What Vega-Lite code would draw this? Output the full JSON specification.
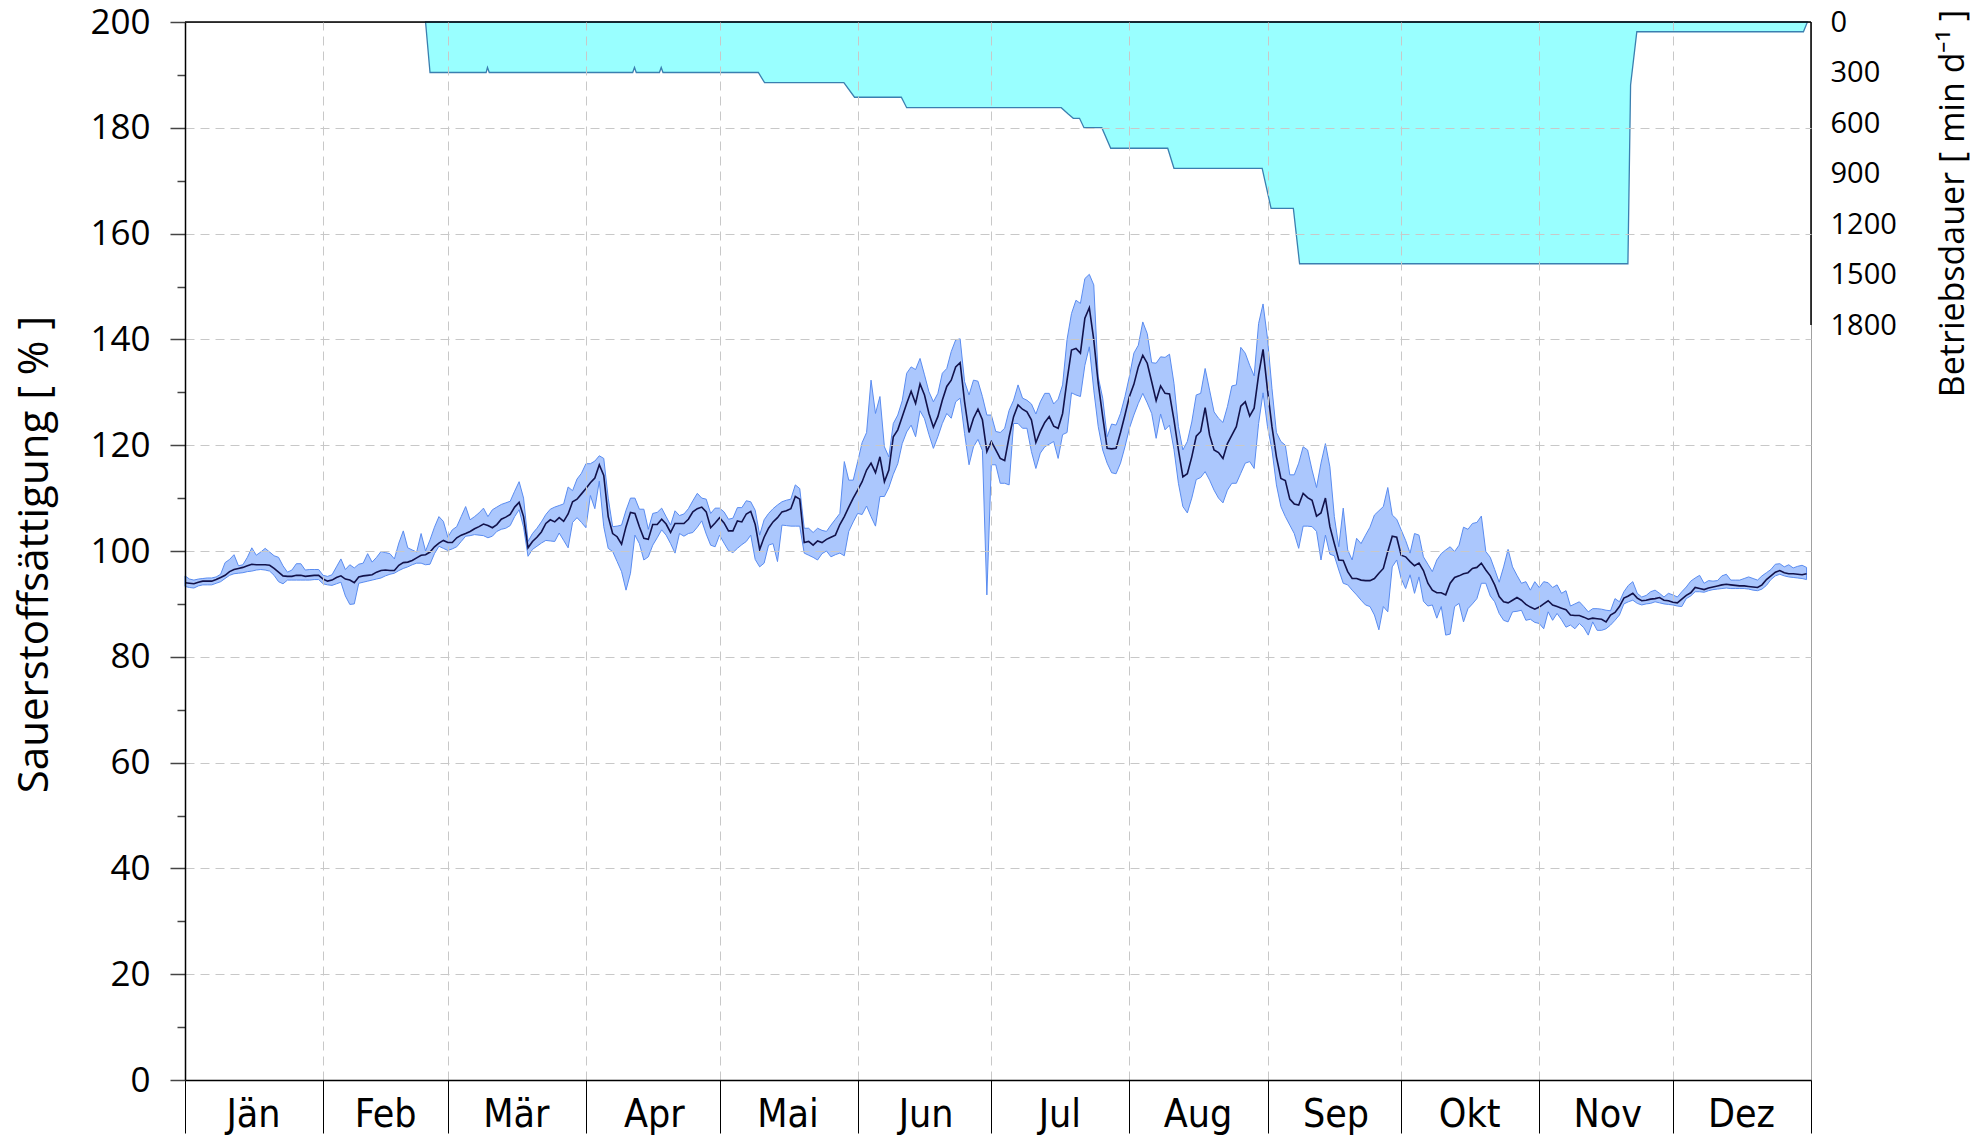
{
  "$schema": "https://vega.github.io/schema/vega-lite/v6.json",
  "width": 1626,
  "height": 1058,
  "autosize": {"type": "none"},
  "padding": {"left": 185, "top": 22, "right": 177, "bottom": 58},
  "background": "white",
  "config": {
    "font": "Open Sans",
    "view": {"stroke": "#a0a0a0", "strokeWidth": 1}
  },
  "datasets": {
    "bd": [
      {"d": 54.0, "v": 0}, {"d": 55.0, "v": 300}, {"d": 67.6, "v": 300}, {"d": 67.9, "v": 270}, {"d": 68.3, "v": 300},
      {"d": 100.5, "v": 300}, {"d": 100.9, "v": 270}, {"d": 101.3, "v": 300}, {"d": 106.5, "v": 300}, {"d": 106.9, "v": 270}, {"d": 107.3, "v": 300},
      {"d": 128.7, "v": 300}, {"d": 130.1, "v": 360}, {"d": 147.9, "v": 360}, {"d": 150.3, "v": 447}, {"d": 160.8, "v": 447}, {"d": 162.0, "v": 509},
      {"d": 196.7, "v": 509}, {"d": 198.2, "v": 545}, {"d": 199.4, "v": 572}, {"d": 200.8, "v": 572}, {"d": 201.8, "v": 628}, {"d": 205.8, "v": 628},
      {"d": 207.8, "v": 750}, {"d": 220.6, "v": 750}, {"d": 222.0, "v": 869}, {"d": 241.8, "v": 869}, {"d": 243.8, "v": 1107}, {"d": 248.8, "v": 1107},
      {"d": 250.2, "v": 1436}, {"d": 323.9, "v": 1436}, {"d": 324.5, "v": 374}, {"d": 325.9, "v": 58}, {"d": 363.3, "v": 58}, {"d": 364.2, "v": 0}
    ],
    "ox": [
      {"d":0,"m":94.0,"lo":93.3,"hi":95.3},{"d":1,"m":93.9,"lo":93.1,"hi":94.7},{"d":2,"m":93.8,"lo":93.0,"hi":94.5},{"d":3,"m":94.1,"lo":93.4,"hi":94.7},
      {"d":4,"m":94.3,"lo":93.6,"hi":94.8},{"d":5,"m":94.3,"lo":93.6,"hi":94.9},{"d":6,"m":94.3,"lo":93.6,"hi":94.9},{"d":7,"m":94.6,"lo":93.9,"hi":95.1},
      {"d":8,"m":95.0,"lo":94.2,"hi":95.6},{"d":9,"m":95.4,"lo":94.8,"hi":97.8},{"d":10,"m":96.1,"lo":95.4,"hi":98.4},{"d":11,"m":96.5,"lo":95.7,"hi":99.3},
      {"d":12,"m":96.7,"lo":95.8,"hi":97.2},{"d":13,"m":96.9,"lo":95.9,"hi":97.4},{"d":14,"m":97.2,"lo":96.1,"hi":98.8},{"d":15,"m":97.5,"lo":96.2,"hi":100.6},
      {"d":16,"m":97.4,"lo":96.4,"hi":99.2},{"d":17,"m":97.4,"lo":96.5,"hi":99.8},{"d":18,"m":97.4,"lo":96.4,"hi":100.5},{"d":19,"m":97.3,"lo":96.2,"hi":99.8},
      {"d":20,"m":96.7,"lo":95.4,"hi":99.1},{"d":21,"m":96.0,"lo":94.2,"hi":98.8},{"d":22,"m":95.3,"lo":93.8,"hi":97.2},{"d":23,"m":95.2,"lo":94.5,"hi":96.0},
      {"d":24,"m":95.2,"lo":94.5,"hi":96.4},{"d":25,"m":95.4,"lo":94.5,"hi":97.6},{"d":26,"m":95.4,"lo":94.5,"hi":97.6},{"d":27,"m":95.2,"lo":94.5,"hi":96.4},
      {"d":28,"m":95.3,"lo":94.5,"hi":96.5},{"d":29,"m":95.4,"lo":94.6,"hi":96.5},{"d":30,"m":95.4,"lo":94.6,"hi":96.5},{"d":31,"m":94.7,"lo":93.8,"hi":95.4},
      {"d":32,"m":94.3,"lo":93.6,"hi":95.2},{"d":33,"m":94.5,"lo":93.5,"hi":95.5},{"d":34,"m":95.0,"lo":93.8,"hi":97.0},{"d":35,"m":95.3,"lo":94.1,"hi":98.5},
      {"d":36,"m":94.7,"lo":91.5,"hi":96.5},{"d":37,"m":94.5,"lo":89.9,"hi":97.4},{"d":38,"m":94.0,"lo":90.0,"hi":96.8},{"d":39,"m":95.1,"lo":93.9,"hi":97.5},
      {"d":40,"m":95.3,"lo":94.1,"hi":97.7},{"d":41,"m":95.4,"lo":94.3,"hi":99.5},{"d":42,"m":95.5,"lo":94.5,"hi":97.9},{"d":43,"m":96.0,"lo":94.7,"hi":98.8},
      {"d":44,"m":96.3,"lo":94.9,"hi":99.9},{"d":45,"m":96.4,"lo":95.3,"hi":99.7},{"d":46,"m":96.3,"lo":95.6,"hi":99.5},{"d":47,"m":96.3,"lo":95.8,"hi":98.5},
      {"d":48,"m":97.3,"lo":96.3,"hi":101.5},{"d":49,"m":97.8,"lo":96.7,"hi":103.8},{"d":50,"m":97.9,"lo":97.0,"hi":100.6},{"d":51,"m":98.2,"lo":97.4,"hi":100.2},
      {"d":52,"m":98.7,"lo":97.7,"hi":99.8},{"d":53,"m":99.2,"lo":97.7,"hi":103.3},{"d":54,"m":99.3,"lo":97.4,"hi":100.0},{"d":55,"m":99.8,"lo":97.5,"hi":102.1},
      {"d":56,"m":100.8,"lo":99.5,"hi":104.5},{"d":57,"m":101.5,"lo":100.9,"hi":106.5},{"d":58,"m":102.0,"lo":100.5,"hi":105.6},{"d":59,"m":101.6,"lo":100.1,"hi":102.6},
      {"d":60,"m":101.6,"lo":100.4,"hi":104.0},{"d":61,"m":102.5,"lo":100.8,"hi":104.6},{"d":62,"m":103.0,"lo":101.8,"hi":106.5},{"d":63,"m":103.3,"lo":102.8,"hi":108.4},
      {"d":64,"m":103.7,"lo":102.9,"hi":105.9},{"d":65,"m":104.2,"lo":103.1,"hi":106.5},{"d":66,"m":104.6,"lo":103.0,"hi":107.2},{"d":67,"m":105.1,"lo":102.9,"hi":108.1},
      {"d":68,"m":104.8,"lo":102.5,"hi":106.5},{"d":69,"m":104.4,"lo":102.8,"hi":107.8},{"d":70,"m":105.0,"lo":103.7,"hi":108.3},{"d":71,"m":106.0,"lo":104.1,"hi":108.8},
      {"d":72,"m":106.4,"lo":104.3,"hi":109.1},{"d":73,"m":106.9,"lo":104.8,"hi":109.4},{"d":74,"m":108.3,"lo":106.5,"hi":111.3},{"d":75,"m":109.2,"lo":107.8,"hi":113.1},
      {"d":76,"m":106.5,"lo":104.5,"hi":110.0},{"d":77,"m":100.6,"lo":99.0,"hi":101.8},{"d":78,"m":101.8,"lo":100.3,"hi":103.3},{"d":79,"m":102.6,"lo":100.9,"hi":104.3},
      {"d":80,"m":103.6,"lo":101.5,"hi":105.5},{"d":81,"m":105.2,"lo":102.0,"hi":106.9},{"d":82,"m":105.9,"lo":101.9,"hi":107.9},{"d":83,"m":105.5,"lo":101.8,"hi":108.3},
      {"d":84,"m":106.3,"lo":103.4,"hi":108.6},{"d":85,"m":105.6,"lo":102.0,"hi":108.9},{"d":86,"m":107.0,"lo":100.6,"hi":112.1},{"d":87,"m":109.3,"lo":105.4,"hi":111.4},
      {"d":88,"m":109.8,"lo":106.3,"hi":113.6},{"d":89,"m":110.8,"lo":105.4,"hi":114.7},{"d":90,"m":111.8,"lo":104.4,"hi":116.5},{"d":91,"m":112.9,"lo":110.5,"hi":116.5},
      {"d":92,"m":113.8,"lo":108.0,"hi":117.0},{"d":93,"m":116.3,"lo":113.2,"hi":118.0},{"d":94,"m":114.3,"lo":104.6,"hi":117.5},{"d":95,"m":106.5,"lo":100.5,"hi":110.0},
      {"d":96,"m":103.3,"lo":99.9,"hi":104.6},{"d":97,"m":102.7,"lo":98.0,"hi":104.7},{"d":98,"m":101.3,"lo":96.1,"hi":104.9},{"d":99,"m":104.6,"lo":92.6,"hi":107.7},
      {"d":100,"m":107.3,"lo":95.8,"hi":110.0},{"d":101,"m":107.1,"lo":103.0,"hi":110.0},{"d":102,"m":104.6,"lo":101.4,"hi":107.9},{"d":103,"m":102.4,"lo":98.3,"hi":107.9},
      {"d":104,"m":102.2,"lo":98.9,"hi":104.1},{"d":105,"m":105.0,"lo":101.1,"hi":107.1},{"d":106,"m":105.0,"lo":102.5,"hi":107.3},{"d":107,"m":106.0,"lo":104.0,"hi":108.1},
      {"d":108,"m":105.1,"lo":103.0,"hi":106.5},{"d":109,"m":103.5,"lo":101.4,"hi":104.9},{"d":110,"m":105.2,"lo":99.6,"hi":107.6},{"d":111,"m":105.2,"lo":103.3,"hi":106.7},
      {"d":112,"m":105.2,"lo":102.8,"hi":107.0},{"d":113,"m":106.0,"lo":103.3,"hi":108.0},{"d":114,"m":107.4,"lo":103.5,"hi":109.5},{"d":115,"m":108.0,"lo":104.5,"hi":110.9},
      {"d":116,"m":108.3,"lo":105.7,"hi":110.0},{"d":117,"m":107.4,"lo":103.2,"hi":109.8},{"d":118,"m":104.4,"lo":101.1,"hi":107.1},{"d":119,"m":105.3,"lo":100.8,"hi":108.1},
      {"d":120,"m":106.3,"lo":103.0,"hi":108.1},{"d":121,"m":105.3,"lo":101.5,"hi":107.4},{"d":122,"m":103.8,"lo":100.1,"hi":106.0},{"d":123,"m":103.8,"lo":99.7,"hi":106.2},
      {"d":124,"m":105.7,"lo":100.5,"hi":108.2},{"d":125,"m":105.5,"lo":101.2,"hi":108.2},{"d":126,"m":107.0,"lo":101.8,"hi":109.5},{"d":127,"m":107.5,"lo":103.0,"hi":109.3},
      {"d":128,"m":105.0,"lo":98.4,"hi":107.7},{"d":129,"m":100.3,"lo":97.0,"hi":103.0},{"d":130,"m":102.6,"lo":97.7,"hi":105.9},{"d":131,"m":104.3,"lo":101.1,"hi":107.1},
      {"d":132,"m":105.5,"lo":101.4,"hi":108.0},{"d":133,"m":106.3,"lo":98.0,"hi":108.7},{"d":134,"m":107.4,"lo":104.9,"hi":109.3},{"d":135,"m":107.6,"lo":104.8,"hi":109.6},
      {"d":136,"m":108.0,"lo":104.7,"hi":109.8},{"d":137,"m":110.3,"lo":104.7,"hi":112.5},{"d":138,"m":109.8,"lo":104.7,"hi":111.8},{"d":139,"m":101.6,"lo":99.6,"hi":104.3},
      {"d":140,"m":101.8,"lo":99.2,"hi":104.3},{"d":141,"m":101.1,"lo":98.8,"hi":103.5},{"d":142,"m":101.9,"lo":98.3,"hi":104.3},{"d":143,"m":101.6,"lo":99.5,"hi":103.9},
      {"d":144,"m":102.2,"lo":100.0,"hi":103.7},{"d":145,"m":102.6,"lo":98.9,"hi":104.9},{"d":146,"m":103.0,"lo":99.3,"hi":106.0},{"d":147,"m":105.0,"lo":99.6,"hi":107.1},
      {"d":148,"m":106.5,"lo":99.1,"hi":116.9},{"d":149,"m":108.3,"lo":103.7,"hi":113.4},{"d":150,"m":110.0,"lo":105.5,"hi":113.4},{"d":151,"m":111.5,"lo":107.1,"hi":116.9},
      {"d":152,"m":113.1,"lo":106.9,"hi":120.5},{"d":153,"m":115.3,"lo":108.5,"hi":122.4},{"d":154,"m":116.6,"lo":106.5,"hi":132.3},{"d":155,"m":114.8,"lo":104.7,"hi":126.0},
      {"d":156,"m":117.8,"lo":110.3,"hi":129.2},{"d":157,"m":113.1,"lo":110.3,"hi":119.7},{"d":158,"m":115.3,"lo":112.0,"hi":117.8},{"d":159,"m":121.6,"lo":114.5,"hi":124.1},
      {"d":160,"m":122.9,"lo":116.5,"hi":125.7},{"d":161,"m":125.4,"lo":120.3,"hi":128.4},{"d":162,"m":127.9,"lo":122.5,"hi":133.6},{"d":163,"m":130.2,"lo":123.8,"hi":134.8},
      {"d":164,"m":127.9,"lo":121.6,"hi":134.3},{"d":165,"m":131.6,"lo":126.5,"hi":136.4},{"d":166,"m":129.5,"lo":125.0,"hi":133.3},{"d":167,"m":126.0,"lo":122.0,"hi":130.1},
      {"d":168,"m":123.4,"lo":119.4,"hi":128.2},{"d":169,"m":125.4,"lo":121.6,"hi":129.8},{"d":170,"m":128.5,"lo":124.1,"hi":133.6},{"d":171,"m":131.1,"lo":126.0,"hi":134.5},
      {"d":172,"m":132.3,"lo":125.1,"hi":137.7},{"d":173,"m":134.8,"lo":128.2,"hi":139.9},{"d":174,"m":135.6,"lo":128.9,"hi":140.1},{"d":175,"m":128.2,"lo":122.2,"hi":132.0},
      {"d":176,"m":122.4,"lo":116.3,"hi":129.5},{"d":177,"m":125.1,"lo":119.7,"hi":132.3},{"d":178,"m":126.8,"lo":121.1,"hi":132.1},{"d":179,"m":124.8,"lo":119.0,"hi":129.2},
      {"d":180,"m":118.8,"lo":91.7,"hi":125.7},{"d":181,"m":120.7,"lo":116.3,"hi":125.7},{"d":182,"m":119.1,"lo":116.3,"hi":122.6},{"d":183,"m":117.5,"lo":112.8,"hi":122.4},
      {"d":184,"m":117.1,"lo":112.8,"hi":123.2},{"d":185,"m":121.6,"lo":112.5,"hi":126.6},{"d":186,"m":125.4,"lo":124.1,"hi":128.5},{"d":187,"m":127.6,"lo":124.1,"hi":131.4},
      {"d":188,"m":126.8,"lo":123.2,"hi":128.9},{"d":189,"m":126.3,"lo":123.2,"hi":128.5},{"d":190,"m":124.8,"lo":118.8,"hi":127.8},{"d":191,"m":120.5,"lo":115.6,"hi":125.9},
      {"d":192,"m":122.6,"lo":118.5,"hi":128.2},{"d":193,"m":124.3,"lo":119.7,"hi":129.8},{"d":194,"m":125.4,"lo":120.2,"hi":129.8},{"d":195,"m":123.6,"lo":120.7,"hi":127.8},
      {"d":196,"m":123.2,"lo":117.5,"hi":128.7},{"d":197,"m":126.0,"lo":122.0,"hi":131.4},{"d":198,"m":132.3,"lo":122.4,"hi":140.0},{"d":199,"m":138.0,"lo":129.9,"hi":144.9},
      {"d":200,"m":138.3,"lo":129.5,"hi":147.4},{"d":201,"m":137.4,"lo":129.2,"hi":146.8},{"d":202,"m":144.0,"lo":135.1,"hi":151.5},{"d":203,"m":146.0,"lo":138.6,"hi":152.3},
      {"d":204,"m":139.9,"lo":130.4,"hi":150.3},{"d":205,"m":131.7,"lo":123.5,"hi":132.9},{"d":206,"m":125.4,"lo":119.1,"hi":128.9},{"d":207,"m":119.4,"lo":116.6,"hi":121.6},
      {"d":208,"m":119.3,"lo":114.8,"hi":124.0},{"d":209,"m":119.4,"lo":114.6,"hi":123.8},{"d":210,"m":122.4,"lo":116.6,"hi":126.0},{"d":211,"m":125.7,"lo":119.7,"hi":129.2},
      {"d":212,"m":129.2,"lo":123.2,"hi":133.0},{"d":213,"m":131.5,"lo":125.7,"hi":137.4},{"d":214,"m":134.8,"lo":127.9,"hi":138.9},{"d":215,"m":137.0,"lo":129.8,"hi":143.3},
      {"d":216,"m":135.5,"lo":128.0,"hi":141.1},{"d":217,"m":132.0,"lo":126.0,"hi":135.6},{"d":218,"m":128.4,"lo":121.3,"hi":135.5},{"d":219,"m":131.2,"lo":125.9,"hi":136.7},
      {"d":220,"m":129.8,"lo":122.9,"hi":136.6},{"d":221,"m":129.7,"lo":123.8,"hi":137.2},{"d":222,"m":124.8,"lo":119.2,"hi":131.7},{"d":223,"m":119.1,"lo":112.8,"hi":123.5},
      {"d":224,"m":114.0,"lo":108.4,"hi":119.1},{"d":225,"m":114.6,"lo":107.2,"hi":120.7},{"d":226,"m":117.8,"lo":110.0,"hi":124.4},{"d":227,"m":121.7,"lo":113.5,"hi":129.5},
      {"d":228,"m":122.6,"lo":113.9,"hi":129.8},{"d":229,"m":127.1,"lo":115.0,"hi":134.5},{"d":230,"m":121.9,"lo":113.4,"hi":130.4},{"d":231,"m":119.1,"lo":111.5,"hi":126.3},
      {"d":232,"m":118.6,"lo":110.0,"hi":125.1},{"d":233,"m":117.5,"lo":109.1,"hi":124.3},{"d":234,"m":120.3,"lo":111.5,"hi":127.3},{"d":235,"m":121.9,"lo":112.8,"hi":131.2},
      {"d":236,"m":123.5,"lo":112.8,"hi":131.4},{"d":237,"m":127.4,"lo":114.7,"hi":138.5},{"d":238,"m":128.2,"lo":116.6,"hi":137.4},{"d":239,"m":125.5,"lo":116.9,"hi":135.1},
      {"d":240,"m":127.0,"lo":115.6,"hi":133.1},{"d":241,"m":133.3,"lo":124.1,"hi":143.0},{"d":242,"m":138.1,"lo":129.9,"hi":146.7},{"d":243,"m":130.4,"lo":123.5,"hi":140.2},
      {"d":244,"m":123.5,"lo":119.1,"hi":130.7},{"d":245,"m":117.8,"lo":112.5,"hi":122.4},{"d":246,"m":113.7,"lo":108.4,"hi":120.7},{"d":247,"m":113.3,"lo":106.5,"hi":120.0},
      {"d":248,"m":109.8,"lo":104.9,"hi":114.4},{"d":249,"m":108.9,"lo":103.3,"hi":114.4},{"d":250,"m":108.7,"lo":100.5,"hi":116.6},{"d":251,"m":110.9,"lo":104.7,"hi":119.7},
      {"d":252,"m":110.1,"lo":104.7,"hi":119.1},{"d":253,"m":109.6,"lo":104.6,"hi":115.3},{"d":254,"m":106.6,"lo":103.7,"hi":112.0},{"d":255,"m":107.2,"lo":98.3,"hi":116.6},
      {"d":256,"m":110.0,"lo":103.0,"hi":120.3},{"d":257,"m":104.6,"lo":99.4,"hi":115.9},{"d":258,"m":101.4,"lo":99.1,"hi":106.5},{"d":259,"m":98.3,"lo":96.4,"hi":100.8},
      {"d":260,"m":98.2,"lo":93.9,"hi":108.1},{"d":261,"m":96.1,"lo":93.6,"hi":100.2},{"d":262,"m":94.8,"lo":92.6,"hi":98.3},{"d":263,"m":94.8,"lo":91.7,"hi":102.4},
      {"d":264,"m":94.5,"lo":90.7,"hi":101.4},{"d":265,"m":94.4,"lo":89.8,"hi":103.0},{"d":266,"m":94.4,"lo":89.5,"hi":104.5},{"d":267,"m":94.8,"lo":87.9,"hi":106.8},
      {"d":268,"m":95.8,"lo":85.1,"hi":107.6},{"d":269,"m":96.7,"lo":89.5,"hi":108.4},{"d":270,"m":99.9,"lo":88.5,"hi":112.0},{"d":271,"m":102.8,"lo":97.0,"hi":106.8},
      {"d":272,"m":102.6,"lo":98.3,"hi":106.0},{"d":273,"m":99.2,"lo":94.8,"hi":104.0},{"d":274,"m":98.9,"lo":92.9,"hi":102.0},{"d":275,"m":98.0,"lo":95.5,"hi":99.6},
      {"d":276,"m":97.2,"lo":92.0,"hi":103.3},{"d":277,"m":97.7,"lo":95.1,"hi":103.0},{"d":278,"m":96.3,"lo":90.5,"hi":98.9},{"d":279,"m":93.9,"lo":89.6,"hi":97.5},
      {"d":280,"m":92.6,"lo":89.8,"hi":96.1},{"d":281,"m":92.1,"lo":87.3,"hi":98.3},{"d":282,"m":92.1,"lo":89.5,"hi":99.5},{"d":283,"m":91.7,"lo":84.1,"hi":100.2},
      {"d":284,"m":93.9,"lo":84.3,"hi":100.8},{"d":285,"m":95.0,"lo":89.5,"hi":99.9},{"d":286,"m":95.3,"lo":90.1,"hi":101.1},{"d":287,"m":95.7,"lo":86.6,"hi":104.5},
      {"d":288,"m":95.9,"lo":89.1,"hi":104.1},{"d":289,"m":96.7,"lo":90.0,"hi":105.2},{"d":290,"m":96.9,"lo":91.0,"hi":105.4},{"d":291,"m":97.7,"lo":93.9,"hi":106.6},
      {"d":292,"m":96.4,"lo":93.9,"hi":99.9},{"d":293,"m":95.3,"lo":91.5,"hi":98.8},{"d":294,"m":93.6,"lo":90.4,"hi":96.5},{"d":295,"m":91.4,"lo":88.2,"hi":94.1},
      {"d":296,"m":90.4,"lo":86.9,"hi":97.0},{"d":297,"m":90.2,"lo":86.6,"hi":100.3},{"d":298,"m":90.7,"lo":88.5,"hi":97.0},{"d":299,"m":91.2,"lo":88.6,"hi":95.4},
      {"d":300,"m":90.7,"lo":88.8,"hi":93.9},{"d":301,"m":89.9,"lo":86.9,"hi":94.2},{"d":302,"m":89.4,"lo":87.1,"hi":92.6},{"d":303,"m":89.0,"lo":86.5,"hi":94.2},
      {"d":304,"m":89.4,"lo":86.3,"hi":93.1},{"d":305,"m":90.0,"lo":85.3,"hi":94.2},{"d":306,"m":90.6,"lo":88.5,"hi":94.0},{"d":307,"m":89.8,"lo":86.9,"hi":93.1},
      {"d":308,"m":89.5,"lo":88.2,"hi":93.6},{"d":309,"m":89.2,"lo":87.0,"hi":92.0},{"d":310,"m":88.9,"lo":85.6,"hi":92.5},{"d":311,"m":87.9,"lo":86.0,"hi":89.6},
      {"d":312,"m":87.8,"lo":85.3,"hi":90.0},{"d":313,"m":87.8,"lo":86.3,"hi":90.4},{"d":314,"m":87.5,"lo":85.5,"hi":89.5},{"d":315,"m":87.1,"lo":84.1,"hi":88.5},
      {"d":316,"m":87.3,"lo":86.6,"hi":89.1},{"d":317,"m":87.2,"lo":85.0,"hi":89.1},{"d":318,"m":87.1,"lo":85.0,"hi":89.0},{"d":319,"m":86.6,"lo":85.3,"hi":88.8},
      {"d":320,"m":87.9,"lo":86.0,"hi":88.7},{"d":321,"m":88.4,"lo":86.9,"hi":91.0},{"d":322,"m":89.5,"lo":87.9,"hi":90.4},{"d":323,"m":91.1,"lo":90.0,"hi":92.3},
      {"d":324,"m":91.5,"lo":90.4,"hi":93.5},{"d":325,"m":92.0,"lo":90.7,"hi":94.2},{"d":326,"m":91.1,"lo":90.1,"hi":92.0},{"d":327,"m":90.6,"lo":89.8,"hi":91.3},
      {"d":328,"m":90.7,"lo":90.0,"hi":91.6},{"d":329,"m":90.9,"lo":90.1,"hi":92.3},{"d":330,"m":91.0,"lo":90.4,"hi":92.6},{"d":331,"m":91.2,"lo":90.2,"hi":92.0},
      {"d":332,"m":90.7,"lo":90.0,"hi":91.3},{"d":333,"m":90.6,"lo":89.9,"hi":92.0},{"d":334,"m":90.3,"lo":89.8,"hi":91.7},{"d":335,"m":90.2,"lo":89.6,"hi":91.3},
      {"d":336,"m":90.9,"lo":89.5,"hi":92.3},{"d":337,"m":91.6,"lo":91.0,"hi":93.2},{"d":338,"m":92.1,"lo":91.5,"hi":94.3},{"d":339,"m":93.1,"lo":92.3,"hi":94.9},
      {"d":340,"m":92.9,"lo":92.3,"hi":95.4},{"d":341,"m":92.7,"lo":92.2,"hi":93.9},{"d":342,"m":93.0,"lo":92.5,"hi":94.4},{"d":343,"m":93.2,"lo":92.7,"hi":94.3},
      {"d":344,"m":93.4,"lo":92.8,"hi":94.4},{"d":345,"m":93.6,"lo":92.9,"hi":95.3},{"d":346,"m":93.7,"lo":93.0,"hi":95.6},{"d":347,"m":93.6,"lo":92.9,"hi":94.5},
      {"d":348,"m":93.5,"lo":92.9,"hi":94.5},{"d":349,"m":93.4,"lo":92.9,"hi":94.5},{"d":350,"m":93.4,"lo":92.9,"hi":94.8},{"d":351,"m":93.3,"lo":92.8,"hi":95.1},
      {"d":352,"m":93.2,"lo":92.6,"hi":94.8},{"d":353,"m":93.1,"lo":92.5,"hi":94.5},{"d":354,"m":93.6,"lo":92.8,"hi":95.3},{"d":355,"m":94.6,"lo":93.5,"hi":95.9},
      {"d":356,"m":95.3,"lo":94.6,"hi":96.5},{"d":357,"m":96.0,"lo":95.3,"hi":97.5},{"d":358,"m":96.3,"lo":95.6,"hi":97.6},{"d":359,"m":95.9,"lo":95.3,"hi":97.0},
      {"d":360,"m":95.7,"lo":95.1,"hi":97.4},{"d":361,"m":95.7,"lo":95.0,"hi":96.8},{"d":362,"m":95.6,"lo":94.9,"hi":97.1},{"d":363,"m":95.5,"lo":94.8,"hi":97.3},
      {"d":364,"m":95.7,"lo":94.6,"hi":96.9}
    ]
  },
  "layer": [
    {
      "layer": [
        {
          "data": {"name": "bd"},
          "mark": {"type": "area", "color": "#99ffff", "fillOpacity": 1, "stroke": "#3a7fb0", "strokeWidth": 1.3},
          "encoding": {
            "x": {"field": "d", "type": "quantitative", "scale": {"domain": [0, 365], "nice": false, "zero": false}},
            "y": {
              "field": "v", "type": "quantitative",
              "scale": {"domain": [0, 6285], "reverse": true, "nice": false, "zero": false},
              "axis": {
                "orient": "right", "values": [0, 300, 600, 900, 1200, 1500, 1800], "format": "d",
                "domain": false, "ticks": false, "grid": false,
                "labelFont": "Open Sans", "labelFontSize": 29, "labelColor": "black",
                "labelPadding": 19, "labelAlign": "left", "labelBaseline": "middle",
                "labelOverlap": false, "labelBound": false, "labelFlush": false,
                "title": "Betriebsdauer [ min d⁻¹ ]", "titleFont": "Open Sans", "titleFontSize": 34,
                "titleFontWeight": "normal", "titleColor": "black", "titleAngle": 270,
                "titleX": 152, "titleY": 181, "titleAlign": "center", "titleBaseline": "alphabetic"
              }
            }
          }
        },
        {
          "data": {"values": [{}]},
          "mark": {"type": "rule", "color": "black", "strokeWidth": 1.5},
          "encoding": {
            "x": {"datum": 365, "type": "quantitative"},
            "y": {"datum": 0, "type": "quantitative"},
            "y2": {"datum": 1800}
          }
        }
      ]
    },
    {
      "layer": [
        {
          "data": {"name": "ox"},
          "mark": {"type": "area", "color": "#abc7fd", "fillOpacity": 1, "stroke": "#5a8cf0", "strokeWidth": 1},
          "encoding": {
            "x": {
              "field": "d", "type": "quantitative", "scale": {"domain": [0, 365], "nice": false, "zero": false},
              "axis": {
                "orient": "bottom",
                "values": [0, 31, 59, 90, 120, 151, 181, 212, 243, 273, 304, 334, 365],
                "domain": true, "domainColor": "black", "domainWidth": 1.5,
                "ticks": true, "tickColor": "black", "tickSize": 53, "tickWidth": 1,
                "grid": true, "gridColor": "#c8c8c8", "gridDash": [9, 6], "gridWidth": 1,
                "gridOpacity": {"condition": {"test": "datum.value === 0 || datum.value === 365", "value": 0}, "value": 1},
                "labelExpr": "['Jän','Feb','Mär','Apr','Mai','Jun','Jul','Aug','Sep','Okt','Nov','Dez',''][indexof([0,31,59,90,120,151,181,212,243,273,304,334,365], datum.value)]",
                "labelFont": "Liberation Sans Narrow, DejaVu Sans Condensed, Arial Narrow, sans-serif",
                "labelFontSize": 39, "labelColor": "black",
                "labelOffset": {"condition": {"test": "datum.value === 31", "value": 62}, "value": 68},
                "labelPadding": -7, "labelBaseline": "alphabetic", "labelAlign": "center",
                "labelOverlap": false, "labelFlush": false, "labelBound": false,
                "title": "", "zindex": 1
              }
            },
            "y": {
              "field": "lo", "type": "quantitative",
              "scale": {"domain": [0, 200], "nice": false, "zero": true},
              "axis": {
                "orient": "left",
                "values": [0, 10, 20, 30, 40, 50, 60, 70, 80, 90, 100, 110, 120, 130, 140, 150, 160, 170, 180, 190, 200],
                "domain": true, "domainColor": "black", "domainWidth": 1.5,
                "ticks": true, "tickColor": "#444444", "tickWidth": 1.5,
                "tickSize": {"condition": {"test": "datum.value % 20 === 0", "value": 15}, "value": 8},
                "grid": true, "gridColor": "#c8c8c8", "gridDash": [9, 6], "gridWidth": 1,
                "gridOpacity": {"condition": {"test": "datum.value % 20 === 0 && datum.value > 0 && datum.value < 200", "value": 1}, "value": 0},
                "labelExpr": "datum.value % 20 === 0 ? datum.label : ''",
                "labelFont": "Open Sans", "labelFontSize": 35, "labelColor": "black", "labelPadding": 20,
                "labelOverlap": false, "labelBound": false, "labelFlush": false,
                "title": "Sauerstoffsättigung [ % ]", "titleFont": "Open Sans", "titleFontSize": 42,
                "titleFontWeight": "normal", "titleColor": "black", "titleAngle": 270,
                "titleX": -138, "titleY": 532, "titleAlign": "center", "titleBaseline": "alphabetic",
                "zindex": 1
              }
            },
            "y2": {"field": "hi"}
          }
        },
        {
          "data": {"name": "ox"},
          "mark": {"type": "line", "color": "#12124a", "strokeWidth": 1.6},
          "encoding": {
            "x": {"field": "d", "type": "quantitative"},
            "y": {"field": "m", "type": "quantitative"}
          }
        },
        {
          "data": {"values": [{}]},
          "mark": {"type": "rule", "color": "black", "strokeWidth": 1.5},
          "encoding": {
            "y": {"datum": 200, "type": "quantitative"}
          }
        }
      ]
    }
  ],
  "resolve": {"scale": {"y": "independent"}}
}
